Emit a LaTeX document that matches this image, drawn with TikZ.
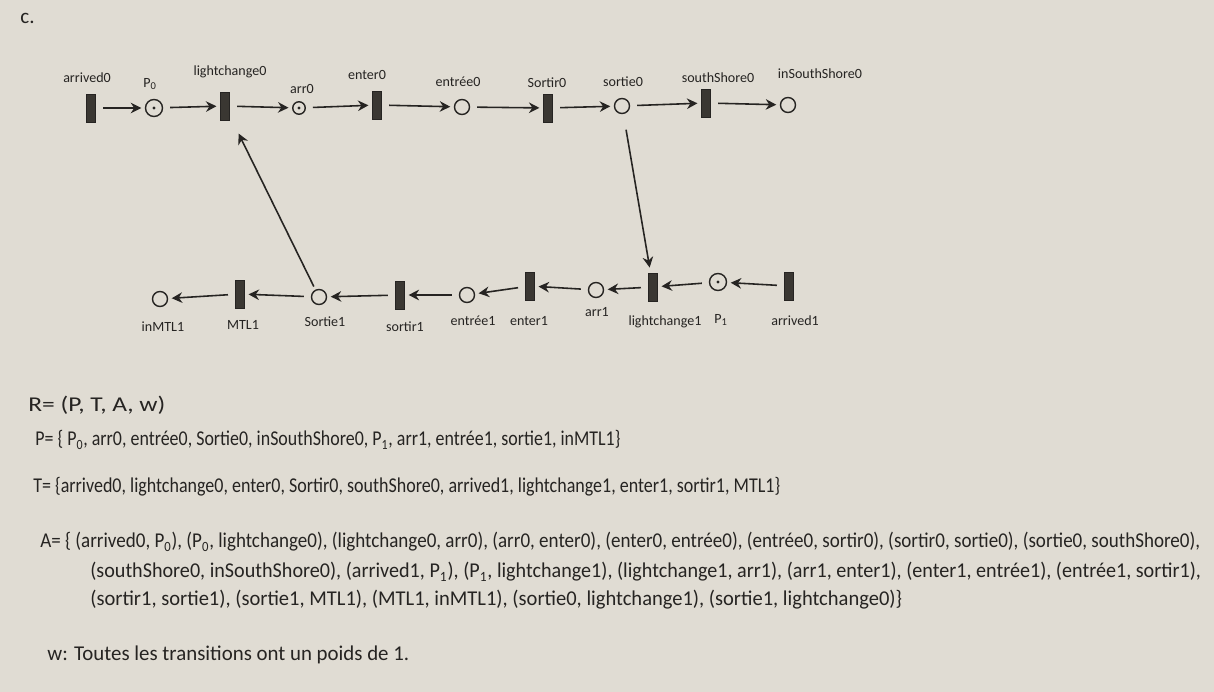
\documentclass[tikz,border=0pt]{standalone}
\usepackage{graphicx}
\usepackage{fontspec}
\setmainfont{Carlito}
\usetikzlibrary{arrows.meta}
\definecolor{paper}{RGB}{224,220,211}
\definecolor{ink}{RGB}{38,36,34}
\definecolor{barink}{RGB}{58,55,50}
\newcommand{\fitline}[2]{\resizebox{#1pt}{\height}{#2}}
\begin{document}
\begin{tikzpicture}[x=0.02cm,y=-0.02cm,
  trans/.style={rectangle,fill=barink,draw=ink,line width=0.3pt,minimum width=0.19cm,minimum height=0.56cm,inner sep=0pt},
  place/.style={circle,draw=ink,line width=0.8pt,minimum size=0.3cm,inner sep=0pt},
  token/.style={path picture={\fill[ink] (path picture bounding box.center) circle (0.9pt);}},
  lbl/.style={font=\fontsize{8}{9}\selectfont,text=ink,inner sep=0pt},
  txt/.style={font=\fontsize{12}{14}\selectfont,text=ink,anchor=west,inner sep=0pt},
  arc/.style={-{Stealth[length=6pt,width=6pt]},draw=ink,line width=0.9pt,shorten >=2pt,shorten <=4pt}]
\fill[paper] (0,0) rectangle (1214,692);
\useasboundingbox (0,0) rectangle (1214,692);

\node[txt] (c) at (20,18) {c.};

% top row
\node[trans] (tarrived0) at (91,108) {};
\node[place,token,minimum size=0.34cm] (pP0) at (154,108) {};
\node[trans] (tlc0) at (225,106) {};
\node[place,token,minimum size=0.25cm] (parr0) at (299,108) {};
\node[trans] (tenter0) at (377,105) {};
\node[place] (pentree0) at (462,107) {};
\node[trans] (tsortir0) at (548,108) {};
\node[place] (psortie0) at (622,106) {};
\node[trans] (tss0) at (706,103) {};
\node[place] (piss0) at (788,105) {};

\node[lbl] (la0) at (87,78) {arrived0};
\node[lbl] (lP0) at (150,84) {P\textsubscript{0}};
\node[lbl] (llc0) at (230,72) {lightchange0};
\node[lbl] (larr0) at (302,89) {arr0};
\node[lbl] (lent0) at (367,75) {enter0};
\node[lbl] (lentree0) at (458,82) {entrée0};
\node[lbl] (lsortir0) at (547,83) {Sortir0};
\node[lbl] (lsortie0) at (623,82) {sortie0};
\node[lbl] (lss0) at (718,78) {southShore0};
\node[lbl] (liss0) at (820,74) {inSouthShore0};

\draw[arc] (tarrived0) -- (pP0);
\draw[arc] (pP0) -- (tlc0);
\draw[arc] (tlc0) -- (parr0);
\draw[arc] (parr0) -- (tenter0);
\draw[arc] (tenter0) -- (pentree0);
\draw[arc] (pentree0) -- (tsortir0);
\draw[arc] (tsortir0) -- (psortie0);
\draw[arc] (psortie0) -- (tss0);
\draw[arc] (tss0) -- (piss0);

% bottom row
\node[place] (pinmtl1) at (160,299) {};
\node[trans] (tmtl1) at (240,294) {};
\node[place] (psortie1) at (319,297) {};
\node[trans] (tsortir1) at (400,295) {};
\node[place] (pentree1) at (467,295) {};
\node[trans] (tenter1) at (530,286) {};
\node[place] (parr1) at (596,290) {};
\node[trans] (tlc1) at (653,287) {};
\node[place,token,minimum size=0.34cm] (pP1) at (718,282) {};
\node[trans] (tarrived1) at (789,286) {};

\node[lbl] (linmtl1) at (163,327) {inMTL1};
\node[lbl] (lmtl1) at (243,325) {MTL1};
\node[lbl] (lsortie1) at (325,322) {Sortie1};
\node[lbl] (lsortir1) at (405,327) {sortir1};
\node[lbl] (lentree1) at (473,321) {entrée1};
\node[lbl] (lenter1) at (529,321) {enter1};
\node[lbl] (larr1) at (597,312) {arr1};
\node[lbl] (llc1) at (665,322) {lightchange1};
\node[lbl] (lP1) at (721,320) {P\textsubscript{1}};
\node[lbl] (la1) at (795,321) {arrived1};

\draw[arc] (tarrived1) -- (pP1);
\draw[arc] (pP1) -- (tlc1);
\draw[arc] (tlc1) -- (parr1);
\draw[arc] (parr1) -- (tenter1);
\draw[arc] (tenter1) -- (pentree1);
\draw[arc] (pentree1) -- (tsortir1);
\draw[arc] (tsortir1) -- (psortie1);
\draw[arc] (psortie1) -- (tmtl1);
\draw[arc] (tmtl1) -- (pinmtl1);

% cross arcs
\draw[arc,shorten <=9pt,shorten >=3pt] (psortie0) -- (tlc1);
\draw[arc,shorten <=2pt,shorten >=11pt] (psortie1) -- (tlc0);

% definitions
\node[txt] (lineR) at (28,405) {\fitline{78}{R= (P, T, A, w)}};
\node[txt] (lineP) at (35,440) {\fitline{333}{P= \{ P\textsubscript{0}, arr0, entrée0, Sortie0, inSouthShore0, P\textsubscript{1}, arr1, entrée1, sortie1, inMTL1\}}};
\node[txt] (lineT) at (33,487) {\fitline{425}{T= \{arrived0, lightchange0, enter0, Sortir0, southShore0, arrived1, lightchange1, enter1, sortir1, MTL1\}}};
\node[txt] (lineA1) at (40,542) {\fitline{660}{A= \{ (arrived0, P\textsubscript{0}), (P\textsubscript{0}, lightchange0), (lightchange0, arr0), (arr0, enter0), (enter0, entrée0), (entrée0, sortir0), (sortir0, sortie0), (sortie0, southShore0),}};
\node[txt] (lineA2) at (90,572) {\fitline{632}{(southShore0, inSouthShore0), (arrived1, P\textsubscript{1}), (P\textsubscript{1}, lightchange1), (lightchange1, arr1), (arr1, enter1), (enter1, entrée1), (entrée1, sortir1),}};
\node[txt] (lineA3) at (90,600) {\fitline{462}{(sortir1, sortie1), (sortie1, MTL1), (MTL1, inMTL1), (sortie0, lightchange1), (sortie1, lightchange0)\}}};
\node[txt] (linew) at (47,655) {\fitline{206}{w: Toutes les transitions ont un poids de 1.}};
\end{tikzpicture}
\end{document}
